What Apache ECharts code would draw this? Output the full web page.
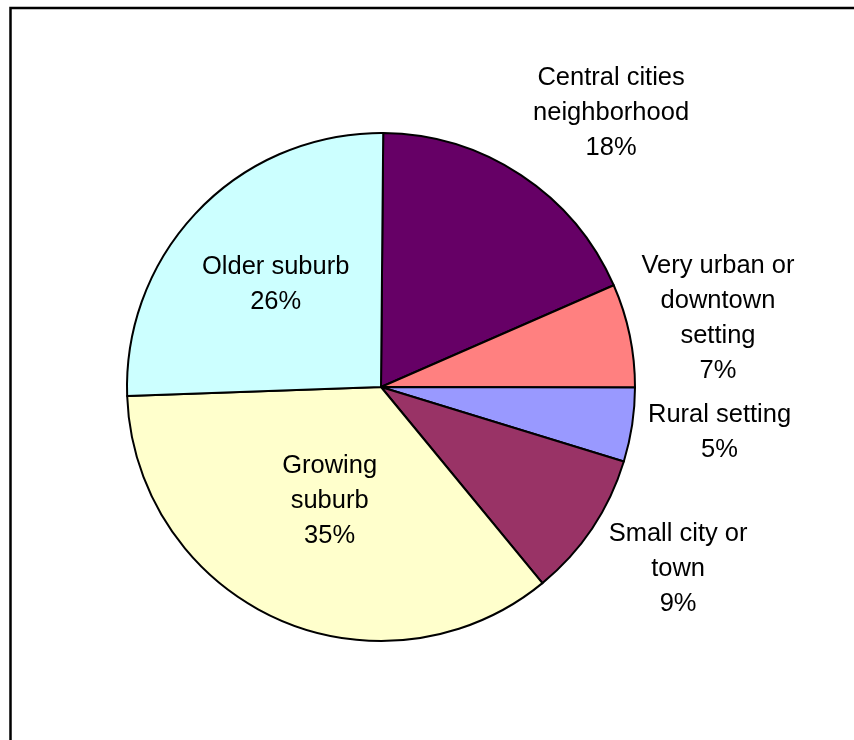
<!DOCTYPE html>
<html>
<head>
<meta charset="utf-8">
<script src="https://cdn.jsdelivr.net/npm/echarts@6/dist/echarts.min.js"></script>
<style>
html,body{margin:0;padding:0;background:#fff;}
#chart{width:854px;height:740px;}
</style>
</head>
<body>
<div id="chart"></div>
<script>
// ---- data ----
var categories = [
  'Central cities\nneighborhood',
  'Very urban or\ndowntown\nsetting',
  'Rural setting',
  'Small city or\ntown',
  'Growing\nsuburb',
  'Older suburb'
];
var values = [18.3, 6.6, 4.7, 9.3, 35.4, 25.7];
var colors = ['#660066', '#FF8080', '#9999FF', '#993366', '#FFFFCC', '#CCFFFF'];

// ---- layout / style ----
var CX = 381, CY = 387, R = 254, START = 89.5;
// label placement: outside labels use a gap beyond the rim, inside labels a radial distance
var labelMode = ['out', 'out', 'out', 'out', 'in', 'in'];
var labelDist = [22, 12, 16, 20, 125, 147];

var total = values.reduce(function (a, b) { return a + b; }, 0);
function midAngle(i) {
  var cum = 0;
  for (var k = 0; k < i; k++) cum += values[k];
  var mid = (cum + values[i] / 2) / total * 360;
  return (START - mid) * Math.PI / 180;
}

var chart = echarts.init(document.getElementById('chart'));
chart.setOption({
  animation: false,
  backgroundColor: '#ffffff',
  graphic: [{
    type: 'rect',
    shape: { x: 10.5, y: 8, width: 900, height: 800 },
    style: { fill: 'none', stroke: '#000', lineWidth: 2.5 },
    silent: true
  }],
  series: [{
    type: 'pie',
    center: [CX, CY],
    radius: [0, R],
    startAngle: START,
    clockwise: true,
    avoidLabelOverlap: false,
    itemStyle: { borderColor: '#000', borderWidth: 2 },
    label: {
      show: true,
      position: 'inside',
      color: '#000',
      fontFamily: 'Liberation Sans, Arial, sans-serif',
      fontSize: 25.5,
      lineHeight: 35,
      align: 'center',
      formatter: function (p) { return p.name + '\n' + Math.round(p.percent) + '%'; }
    },
    labelLine: { show: false },
    emphasis: { disabled: true },
    labelLayout: function (p) {
      var i = p.dataIndex;
      var a = midAngle(i);
      var c = Math.cos(a), s = Math.sin(a);
      var w = p.labelRect.width, h = p.labelRect.height;
      var x, y;
      if (labelMode[i] === 'out') {
        var d = R + labelDist[i];
        x = CX + d * c + (c >= 0 ? 1 : -1) * w / 2;
        y = CY - d * s - s * h / 2;
      } else {
        x = CX + labelDist[i] * c;
        y = CY - labelDist[i] * s;
      }
      return { x: x, y: y, align: 'center', verticalAlign: 'middle' };
    },
    data: categories.map(function (n, i) {
      return { name: n, value: values[i], itemStyle: { color: colors[i] } };
    })
  }]
});
</script>
</body>
</html>
